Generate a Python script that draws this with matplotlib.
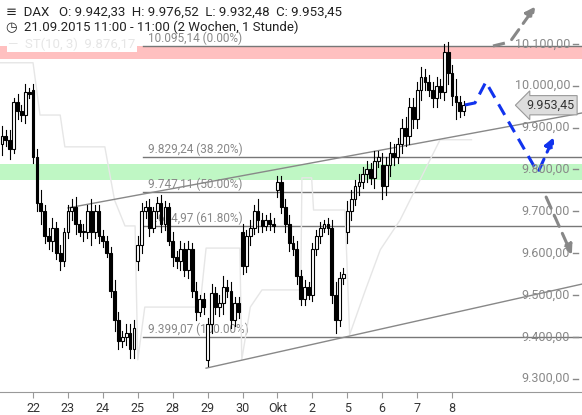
import matplotlib.pyplot as plt
from matplotlib.patches import Rectangle

plt.rcParams['font.family'] = ['Roboto', 'DejaVu Sans']

# hourly closes per trading day
days = ['21', '22', '23', '24', '25', '28', '29', '30', 'Okt', '2', '5', '6', '7', '8']
closes = [
    [9880, 9870, 9850, 9960, 9940, 9930, 9985, 9980],
    [9830, 9720, 9700, 9640, 9630, 9660, 9600, 9580, 9650],
    [9700, 9710, 9670, 9650, 9650, 9700, 9650, 9700, 9640],
    [9630, 9600, 9510, 9440, 9390, 9400, 9410, 9370, 9420],
    [9620, 9700, 9710, 9660, 9700, 9720, 9670, 9710, 9630],
    [9590, 9580, 9610, 9560, 9610, 9510, 9460, 9490, 9470],
    [9430, 9505, 9470, 9480, 9520, 9510, 9440, 9480, 9460],
    [9570, 9640, 9660, 9700, 9680, 9665, 9680, 9670, 9665],
    [9770, 9710, 9670, 9625, 9610, 9545, 9490, 9520, 9500],
    [9610, 9640, 9660, 9670, 9660, 9500, 9440, 9540, 9550],
    [9700, 9730, 9760, 9770, 9790, 9800, 9780, 9820, 9830],
    [9760, 9810, 9840, 9830, 9860, 9900, 9880, 9950, 9920],
    [9990, 10020, 10010, 9990, 9970, 10000, 9985, 10080, 10030],
    [9975, 9960, 9940, 9953],
]
day_open = {'21': 9860, '22': 9990, '25': 9580, '29': 9345, '30': 9650,
            'Okt': 9750, '5': 9650, '6': 9810}
wicks = [
    [25, 15, 25, 10, 20, 15, 20, 10],
    [15, 20, 30, 15, 20, 25, 15, 20, 10],
    [15, 20, 25, 10, 20, 15, 30, 15, 15],
    [15, 10, 15, 25, 20, 15, 20, 20, 20],
    [20, 20, 15, 20, 10, 15, 20, 15, 10],
    [20, 15, 20, 15, 20, 15, 20, 10, 15],
    [15, 20, 15, 20, 25, 15, 20, 15, 15],
    [20, 15, 20, 15, 30, 15, 10, 15, 15],
    [15, 15, 20, 20, 15, 20, 15, 15, 10],
    [15, 15, 15, 10, 15, 20, 30, 15, 15],
    [25, 20, 15, 20, 15, 20, 15, 25, 15],
    [30, 20, 25, 20, 15, 20, 25, 20, 20],
    [20, 25, 20, 15, 20, 20, 15, 20, 25],
    [20, 40, 15, 10],
]

fib_levels = [10095.14, 9829.24, 9747.11, 9664.97, 9399.07]
fib_labels = ['10.095,14 (0.00%)', '9.829,24 (38.20%)', '9.747,11 (50.00%)',
              '9.664,97 (61.80%)', '9.399,07 (100.00%)']
yticks = [10100, 10000, 9900, 9800, 9700, 9600, 9500, 9400, 9300]

# supertrend (index, value)
st_x = [-0.5, 8, 9.8, 15, 16.2, 26.5, 29, 31.7, 34.3, 35, 36.8, 51, 52.6, 61.3,
        61.8, 64, 67, 77, 77.3, 79.8, 80.3, 88.4, 89.6, 93.6, 97.5, 102.6, 112.9, 121]
st_y = [10055, 10055, 9930, 9930, 9854, 9854, 9727, 9665, 9665, 9345, 9471, 9471, 9612, 9612,
        9345, 9471, 9512, 9512, 9780, 9780, 9703, 9703, 9405, 9510, 9608, 9679, 9871, 9871]

upper_tl = ([17, 149.5], [9708, 9935])
lower_tl = ([52.6, 149.5], [9325, 9526])
blue_x = [119.3, 121.9, 124.7, 138.1, 142.5]
blue_y = [9954, 9959, 10009, 9792, 9883]

fig = plt.figure(figsize=(5.82, 4.15), dpi=100)
ax = fig.add_axes([0, 23 / 415, 1, 1 - 23 / 415])
px = lambda p: (p - 2) / 3.88
ax.set_xlim(px(0), px(582))
ax.set_ylim(9268, 10205)

ax.axhspan(10065, 10095, color='#ffc0c0', lw=0, zorder=0)
ax.axhspan(9775, 9813, color='#bff7c4', lw=0, zorder=0)
for lv, lb in zip(fib_levels, fib_labels):
    ax.plot([px(143), px(582)], [lv, lv], color='#777777', lw=1, zorder=1)
    ax.text(px(148), lv + 2, lb, color='#888888', fontsize=8.5, va='bottom', zorder=1)

ax.plot(st_x, st_y, color='#e6e6e6', lw=1, zorder=1)
ax.plot(*upper_tl, color='#888888', lw=1, zorder=1)
ax.plot(*lower_tl, color='#888888', lw=1, zorder=1)

i = 0
day_starts = []
prev = None
for d, cl, wk in zip(days, closes, wicks):
    day_starts.append(i)
    for j, (c, w) in enumerate(zip(cl, wk)):
        o = day_open[d] if (j == 0 and d in day_open) else prev
        hi, lo = max(o, c) + w, min(o, c) - w
        ax.plot([i, i], [lo, hi], color='black', lw=0.8, zorder=3)
        up = c >= o
        ax.add_patch(Rectangle((i - 0.36, min(o, c)), 0.72, max(abs(c - o), 2),
                               facecolor='white' if up else 'black',
                               edgecolor='black', lw=0.8, zorder=4))
        prev = c
        i += 1

ax.plot(blue_x[:-1], blue_y[:-1], color='#1133ee', lw=2.2, ls=(0, (4, 2.5)), zorder=5)
ax.annotate('', xy=(blue_x[-1], blue_y[-1]), xytext=(blue_x[-2], blue_y[-2]),
            arrowprops=dict(arrowstyle='-|>', color='#1133ee', lw=2.2, ls=(0, (4, 2.5)),
                            mutation_scale=14), zorder=5)
ax.plot([px(493), px(510)], [10095, 10105], color='#888888', lw=2.2, ls=(0, (4, 2.5)), zorder=5)
ax.annotate('', xy=(px(537), 10195), xytext=(px(510), 10105),
            arrowprops=dict(arrowstyle='-|>', color='#888888', lw=2.2, ls=(0, (4, 2.5)),
                            mutation_scale=14), zorder=5)
ax.annotate('', xy=(px(573), 9590), xytext=(px(545), 9740),
            arrowprops=dict(arrowstyle='-|>', color='#888888', lw=2.2, ls=(0, (4, 2.5)),
                            mutation_scale=14), zorder=5)

for t in yticks:
    s = f'{t:,.2f}'.replace(',', 'X').replace('.', ',').replace('X', '.')
    ax.text(px(570), t, s, color='#888888', fontsize=9, ha='right', va='center', zorder=6)
    ax.plot([px(573), px(578)], [t, t], color='#888888', lw=1, zorder=6)

ax.text(px(574), 9953.45, '9.953,45', fontsize=9, color='#333333', ha='right', va='center',
        zorder=7, bbox=dict(boxstyle='larrow,pad=0.25', fc='#dddddd', ec='#999999', lw=0.8))

ax.set_yticks([])
ax.set_xticks(day_starts[1:])
ax.set_xticklabels(days[1:], fontsize=9, color='#333333')
ax.tick_params(axis='x', length=4, color='#999999')
for sp in ['top', 'right', 'left']:
    ax.spines[sp].set_visible(False)
ax.spines['bottom'].set_color('#999999')

fig.text(6 / 582, 1 - 12 / 415, '\u2261  DAX   O: 9.942,33  H: 9.976,52  L: 9.932,48  C: 9.953,45',
         fontsize=9.5, color='#222222', va='center')
fig.text(6 / 582, 1 - 27 / 415, '\u25f7  21.09.2015 11:00 - 11:00 (2 Wochen, 1 Stunde)',
         fontsize=9.5, color='#222222', va='center')
fig.text(8 / 582, 1 - 44 / 415, '\u2014  ST(10, 3)  9.876,17', fontsize=9.5, color='#e6e6e6',
         va='center', bbox=dict(fc='white', ec='none', pad=1))

fig.savefig('out.png', dpi=100)
